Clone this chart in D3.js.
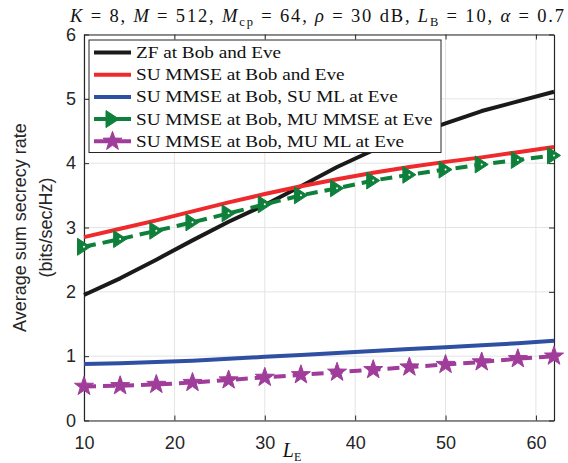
<!DOCTYPE html>
<html>
<head>
<meta charset="utf-8">
<script src="https://cdn.jsdelivr.net/npm/d3@7"></script>
<style>
  html, body { margin: 0; padding: 0; background: #fff; }
  svg { display: block; }
</style>
</head>
<body>
<svg id="chart" width="568" height="463"></svg>
<script>
// Eve's number of antennas
const LE = [10, 14, 18, 22, 26, 30, 34, 38, 42, 46, 50, 54, 58, 62];

// Average sum secrecy rate (bits/sec/Hz) per scheme
const zfBobEve      = [1.95, 2.21, 2.50, 2.80, 3.09, 3.35, 3.64, 3.94, 4.20, 4.42, 4.62, 4.81, 4.96, 5.11];
const suMmseBobEve  = [2.85, 2.98, 3.11, 3.25, 3.39, 3.52, 3.64, 3.75, 3.85, 3.94, 4.02, 4.09, 4.17, 4.25];
const suMmseSuMl    = [0.88, 0.89, 0.91, 0.93, 0.96, 0.99, 1.02, 1.05, 1.08, 1.11, 1.14, 1.17, 1.20, 1.24];
const suMmseMuMmse  = [2.70, 2.82, 2.95, 3.08, 3.22, 3.36, 3.50, 3.61, 3.73, 3.82, 3.90, 3.98, 4.05, 4.12];
const suMmseMuMl    = [0.53, 0.54, 0.56, 0.59, 0.63, 0.67, 0.71, 0.75, 0.79, 0.83, 0.87, 0.91, 0.96, 1.00];

const seriesNames = [
  "ZF at Bob and Eve",
  "SU MMSE at Bob and Eve",
  "SU MMSE at Bob, SU ML at Eve",
  "SU MMSE at Bob, MU MMSE at Eve",
  "SU MMSE at Bob, MU ML at Eve"
];

const xTicks = [10, 20, 30, 40, 50, 60];
const yTicks = [0, 1, 2, 3, 4, 5, 6];

const series = [
  { name: seriesNames[0], values: zfBobEve,     color: "#1a1a1a", dash: null,   marker: null },
  { name: seriesNames[1], values: suMmseBobEve, color: "#ee2a2c", dash: null,   marker: null },
  { name: seriesNames[2], values: suMmseSuMl,   color: "#2f4fa2", dash: null,   marker: null },
  { name: seriesNames[3], values: suMmseMuMmse, color: "#0f803b", dash: "12,7", marker: "tri" },
  { name: seriesNames[4], values: suMmseMuMl,   color: "#a03c9a", dash: "12,7", marker: "star" }
];

const svg = d3.select("#chart");
const margin = { left: 84, right: 14, top: 34.5, bottom: 42.5 };
const W = 568, H = 463;
const x = d3.scaleLinear().domain([10, 62]).range([margin.left, W - margin.right]);
const y = d3.scaleLinear().domain([0, 6]).range([H - margin.bottom, margin.top]);

const axisColor = "#262626";
const sans = "'Liberation Sans', Arial, Helvetica, sans-serif";
const serif = "'Liberation Serif', 'Times New Roman', serif";

// widen serif text to the wider proportions of a TeX-style face
function widen(sel, factor) {
  sel.each(function () {
    const w = this.getComputedTextLength();
    d3.select(this).attr("textLength", w * factor).attr("lengthAdjust", "spacingAndGlyphs");
  });
}

// grid
const grid = svg.append("g");
grid.selectAll("line.gx").data(xTicks).join("line")
  .attr("x1", d => x(d)).attr("x2", d => x(d))
  .attr("y1", y(0)).attr("y2", y(6))
  .attr("stroke", "#e4e4e4").attr("stroke-width", 1);
grid.selectAll("line.gy").data(yTicks).join("line")
  .attr("x1", x(10)).attr("x2", x(62))
  .attr("y1", d => y(d)).attr("y2", d => y(d))
  .attr("stroke", "#e4e4e4").attr("stroke-width", 1);

// axes (ticks pointing inward, box on all sides)
const tickLen = 5;
const fmt = d3.format("d");
const axBottom = svg.append("g").attr("transform", `translate(0,${y(0)})`)
  .call(d3.axisBottom(x).tickValues(xTicks).tickFormat(fmt).tickSizeInner(-tickLen).tickSizeOuter(0).tickPadding(16));
const axLeft = svg.append("g").attr("transform", `translate(${x(10)},0)`)
  .call(d3.axisLeft(y).tickValues(yTicks).tickFormat(fmt).tickSizeInner(-tickLen).tickSizeOuter(0).tickPadding(8));
const axTop = svg.append("g").attr("transform", `translate(0,${y(6)})`)
  .call(d3.axisTop(x).tickValues(xTicks).tickSizeInner(-tickLen).tickSizeOuter(0).tickFormat(""));
const axRight = svg.append("g").attr("transform", `translate(${x(62)},0)`)
  .call(d3.axisRight(y).tickValues(yTicks).tickSizeInner(-tickLen).tickSizeOuter(0).tickFormat(""));

[axBottom, axLeft, axTop, axRight].forEach(g => {
  g.select(".domain").attr("stroke", axisColor).attr("stroke-width", 1.2);
  g.selectAll(".tick line").attr("stroke", axisColor).attr("stroke-width", 1);
  g.selectAll(".tick text").attr("fill", axisColor)
    .style("font-family", sans).style("font-size", "18px");
});

// lines
const line = d3.line().x((d, i) => x(LE[i])).y(d => y(d));
const plot = svg.append("g");

function markerPath(type) {
  if (type === "tri") {
    const w = 13, h = 17;
    return `M${w / 2},0L${-w / 2},${-h / 2}L${-w / 2},${h / 2}Z`;
  }
  const R = 10, r = R * 0.4, pts = [];
  for (let k = 0; k < 10; k++) {
    const a = -Math.PI / 2 + k * Math.PI / 5;
    const rr = k % 2 === 0 ? R : r;
    pts.push([rr * Math.cos(a), rr * Math.sin(a)]);
  }
  return "M" + pts.map(p => p.join(",")).join("L") + "Z";
}

series.forEach(s => {
  plot.append("path").datum(s.values)
    .attr("d", line)
    .attr("fill", "none")
    .attr("stroke", s.color)
    .attr("stroke-width", 4)
    .attr("stroke-dasharray", s.dash)
    .attr("stroke-linejoin", "round");
  if (s.marker) {
    const g = plot.append("g");
    g.selectAll("path").data(s.values).join("path")
      .attr("transform", (d, i) => `translate(${x(LE[i])},${y(d)})`)
      .attr("d", markerPath(s.marker))
      .attr("fill", s.color)
      .attr("stroke", s.color)
      .attr("stroke-width", 1);
    if (s.marker === "tri") {
      g.selectAll("circle").data(s.values).join("circle")
        .attr("cx", (d, i) => x(LE[i])).attr("cy", d => y(d))
        .attr("r", 1).attr("fill", "#fff");
    }
  }
});

// legend
const lg = svg.append("g");
const lgX = 89, lgY = 40, lgW = 352, lgH = 112.5, rowH = 22.2;
lg.append("rect").attr("x", lgX).attr("y", lgY).attr("width", lgW).attr("height", lgH)
  .attr("fill", "#fff").attr("stroke", "#262626").attr("stroke-width", 1);
series.forEach((s, i) => {
  const cy = lgY + 12.5 + i * rowH;
  lg.append("line").attr("x1", lgX + 5).attr("x2", lgX + 42)
    .attr("y1", cy).attr("y2", cy)
    .attr("stroke", s.color).attr("stroke-width", 4);
  if (s.marker) {
    lg.append("path").attr("transform", `translate(${lgX + 23.5},${cy})`)
      .attr("d", markerPath(s.marker)).attr("fill", s.color).attr("stroke", s.color);
  }
  const t = lg.append("text").attr("x", lgX + 47).attr("y", cy + 5.5)
    .style("font-family", serif).style("font-size", "16px").attr("fill", "#111")
    .text(s.name);
  widen(t, 1.2);
});

// y axis label
const yl = svg.append("text")
  .attr("transform", `translate(0,${(y(0) + y(6)) / 2}) rotate(-90)`)
  .attr("text-anchor", "middle")
  .style("font-family", sans).style("font-size", "18px").attr("fill", axisColor);
yl.append("tspan").attr("x", 0).attr("y", 26).text("Average sum secrecy rate");
yl.append("tspan").attr("x", 0).attr("y", 52).text("(bits/sec/Hz)");

// x axis label: L_E
const xl = svg.append("text").attr("x", 292).attr("y", 457)
  .attr("text-anchor", "middle")
  .style("font-family", serif).style("font-size", "20px").attr("fill", "#111");
xl.append("tspan").style("font-style", "italic").text("L");
xl.append("tspan").attr("dy", 4).style("font-size", "12px").text("E");

// title
const tt = svg.append("text").attr("x", 317).attr("y", 22)
  .attr("text-anchor", "middle")
  .style("font-family", serif).style("font-size", "18.5px").attr("fill", "#111");
function part(txt, opts = {}) {
  const t = tt.append("tspan").text(txt);
  if (opts.italic) t.style("font-style", "italic");
  if (opts.sub) t.attr("dy", 4).style("font-size", "12.5px");
  if (opts.up) t.attr("dy", -4);
  return t;
}
part("K", { italic: true }); part(" = 8, ");
part("M", { italic: true }); part(" = 512, ");
part("M", { italic: true }); part("cp", { sub: true }); part(" = 64, ", { up: true });
part("ρ", { italic: true }); part(" = 30 dB, ");
part("L", { italic: true }); part("B", { sub: true }); part(" = 10, ", { up: true });
part("α", { italic: true }); part(" = 0.7");
tt.attr("textLength", 494).attr("lengthAdjust", "spacing");
</script>
</body>
</html>
